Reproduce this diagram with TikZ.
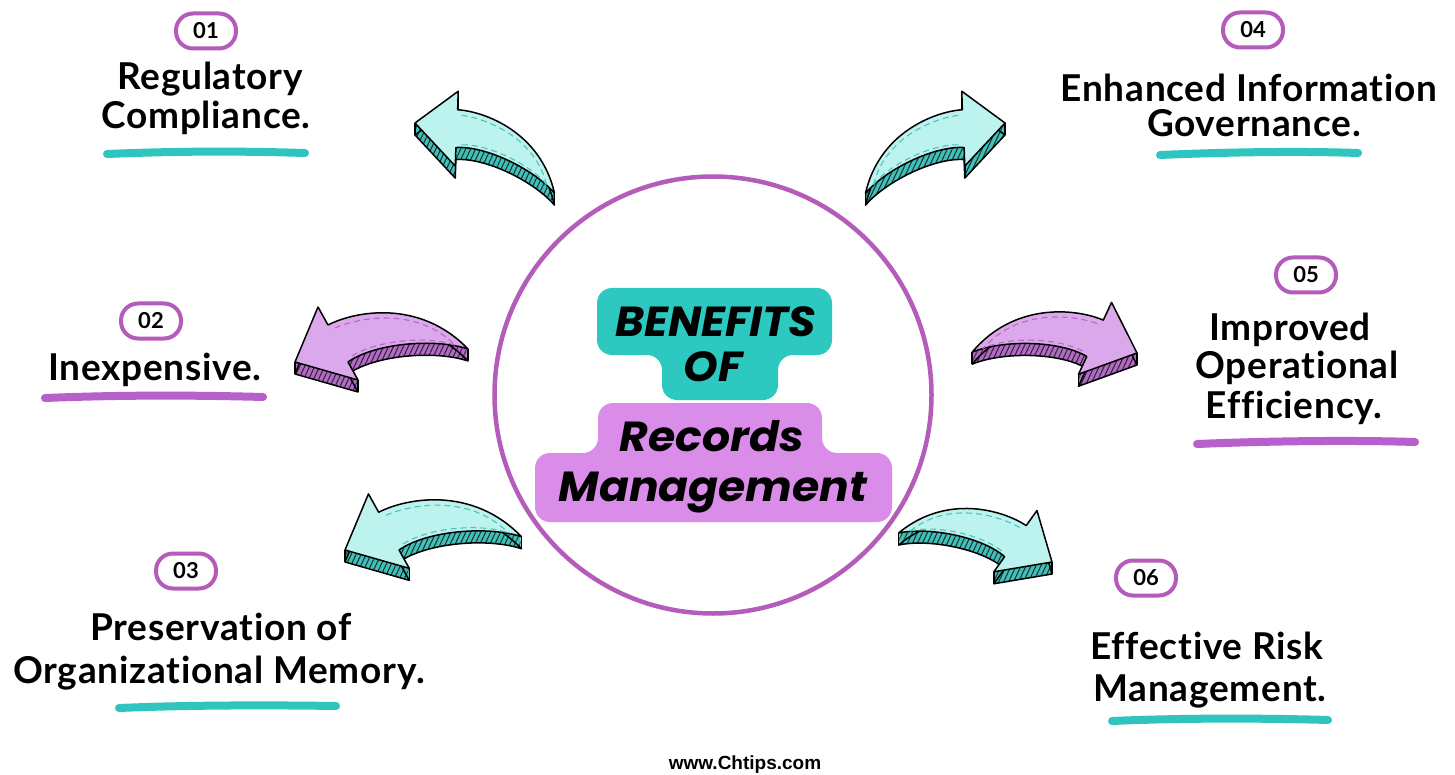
\documentclass[tikz,border=0pt]{standalone}
\usepackage{fontspec}
\setmainfont{Lato}[Ligatures=NoCommon]
\newfontfamily\labelfont{Lato}[Ligatures=NoCommon, LetterSpace=2]
\newfontfamily\titlefont{Poppins}[FakeStretch=1.05]
\newfontfamily\sitefont{Liberation Sans}
\usetikzlibrary{patterns.meta}

\definecolor{ringpurple}{HTML}{B45CB9}
\definecolor{boxteal}{HTML}{2DC9C1}
\definecolor{boxorchid}{HTML}{D98DE9}
\definecolor{tealtop}{HTML}{BDF3EE}
\definecolor{tealside}{HTML}{3CC2BA}
\definecolor{tealdash}{HTML}{4FC2BA}
\definecolor{orchidtop}{HTML}{DCA8EC}
\definecolor{orchidside}{HTML}{B469C8}
\definecolor{orchiddash}{HTML}{B26CC4}
\definecolor{lineteal}{HTML}{2FC4BD}
\definecolor{lineorchid}{HTML}{B760CB}

% top face of a curved arrow: tip at the origin, head pointing left
\newcommand\arrowface{(0,0) -- (23,-55) -- (33,-37) .. controls (60,-51) and (125,-63) .. (173,-13) .. controls (140,-24) and (80,-19) .. (53,0) -- (63,18) -- cycle}

% #1 name, #2 placement, #3 top colour, #4 side colour, #5 dash colour
\newcommand\benefitarrow[5]{%
  \foreach \t in {0,1,...,12}{%
    \begin{scope}[shift={(0,\t)}]\begin{scope}[#2]
      \fill[#4] \arrowface;
      \fill[pattern={Lines[angle=65,distance=4.5pt,line width=1pt]},pattern color=black!85] \arrowface;
    \end{scope}\end{scope}}
  \begin{scope}[shift={(0,12)}]\begin{scope}[#2]
    \draw[arrowline] \arrowface;
  \end{scope}\end{scope}
  \begin{scope}[#2]
    \coordinate (#1-tip) at (0,0);
    \coordinate (#1-ub) at (23,-55);
    \coordinate (#1-lb) at (63,18);
    \coordinate (#1-tail) at (173,-13);
  \end{scope}
  \draw[arrowline] (#1-tip) -- ++(0,12) (#1-ub) -- ++(0,12)
                   (#1-lb) -- ++(0,12) (#1-tail) -- ++(0,12);
  \begin{scope}[#2]
    \filldraw[fill=#3, arrowline] \arrowface;
    \draw[dashline, #5] (40,-34) .. controls (65,-45) and (122,-55) .. (160,-17);
    \draw[dashline, #5] (57,-6) .. controls (82,-22) and (135,-27) .. (162,-16);
  \end{scope}
}

\tikzset{
  badge/.style={draw=ringpurple, line width=4pt, rounded corners=17pt,
    minimum width=60pt, minimum height=35pt, inner sep=0pt,
    font=\fontsize{22}{22}\selectfont\bfseries},
  benefittext/.style={anchor=base, inner sep=0pt,
    font=\labelfont\fontsize{37}{40}\selectfont\bfseries},
  titletext/.style={anchor=base, inner sep=0pt,
    font=\titlefont\fontsize{42}{44}\selectfont\bfseries\itshape},
  brushteal/.style={draw=lineteal, line width=8pt, line cap=round},
  brushorchid/.style={draw=lineorchid, line width=8pt, line cap=round},
  arrowline/.style={draw=black, line width=1.5pt, line join=round},
  dashline/.style={dash pattern=on 6pt off 4pt, line width=1.1pt},
}

\begin{document}
\begin{tikzpicture}[x=1pt,y=-1pt]
\useasboundingbox (0,0) rectangle (1455,775);
\fill[white] (0,0) rectangle (1455,775);

% central ring and title boxes
\node[circle, draw=ringpurple, line width=4.5pt, minimum size=437pt, inner sep=0pt] (hub) at (713,395) {};
\fill[boxteal, rounded corners=15pt] (597,288) -- (832,288) -- (832,355) -- (778,355)
  -- (778,400) -- (662,400) -- (662,355) -- (597,355) -- cycle;
\fill[boxorchid, rounded corners=15pt] (598,403) -- (822,403) -- (822,453) -- (892,453)
  -- (892,522) -- (535,522) -- (535,453) -- (598,453) -- cycle;
\node[titletext] (t1) at (716,336) {BENEFITS};
\node[titletext] (t2) at (713,381) {OF};
\node[titletext] (t3) at (712,451) {Records};
\node[titletext] (t4) at (713,501) {Management};

% arrows
\benefitarrow{a1}{shift={(415,123)}, rotate=-31, scale=0.9}{tealtop}{tealside}{tealdash}
\benefitarrow{a2}{shift={(295,362)}}{orchidtop}{orchidside}{orchiddash}
\benefitarrow{a3}{shift={(345,550)}, scale=1.02}{tealtop}{tealside}{tealdash}
\benefitarrow{a4}{shift={(1005,123)}, xscale=-1, rotate=-31, scale=0.9}{tealtop}{tealside}{tealdash}
\benefitarrow{a5}{shift={(1137,353)}, xscale=-1, rotate=-4, scale=0.95}{orchidtop}{orchidside}{orchiddash}
\benefitarrow{a6}{shift={(1052,562)}, xscale=-1, rotate=6.4, scale=0.9}{tealtop}{tealside}{tealdash}

% 01
\node[badge] (b1) at (206,31) {01};
\node[benefittext] (l1a) at (210,90) {Regulatory};
\node[benefittext] (l1b) at (206,129) {Compliance.};
\draw[brushteal] (107,154) .. controls (180,151) and (240,151) .. (305,153);

% 02
\node[badge] (b2) at (151,321) {02};
\node[benefittext] (l2a) at (155,380) {Inexpensive.};
\draw[brushorchid] (45,398) .. controls (120,395) and (190,395) .. (263,397);

% 03
\node[badge] (b3) at (186,571) {03};
\node[benefittext] (l3a) at (221,640) {Preservation of};
\node[benefittext] (l3b) at (219,683) {Organizational Memory.};
\draw[brushteal] (119,708) .. controls (190,705) and (270,705) .. (336,706);

% 04
\node[badge] (b4) at (1253,30) {04};
\node[benefittext] (l4a) at (1249,102) {Enhanced Information};
\node[benefittext] (l4b) at (1254,137) {Governance.};
\draw[brushteal] (1160,155) .. controls (1230,152) and (1300,151) .. (1358,153);

% 05
\node[badge] (b5) at (1306,275) {05};
\node[benefittext] (l5a) at (1290,340) {Improved};
\node[benefittext] (l5b) at (1297,378) {Operational};
\node[benefittext] (l5c) at (1294,418) {Efficiency.};
\draw[brushorchid] (1197,444) .. controls (1270,441) and (1350,440) .. (1415,442);

% 06
\node[badge] (b6) at (1146,578) {06};
\node[benefittext] (l6a) at (1207,659) {Effective Risk};
\node[benefittext] (l6b) at (1210,701) {Management.};
\draw[brushteal] (1112,721) .. controls (1180,718) and (1260,718) .. (1328,720);

% footer
\node[anchor=base, inner sep=0pt, font=\sitefont\bfseries\fontsize{19}{19}\selectfont] (site) at (745,769) {www.Chtips.com};
\end{tikzpicture}
\end{document}
